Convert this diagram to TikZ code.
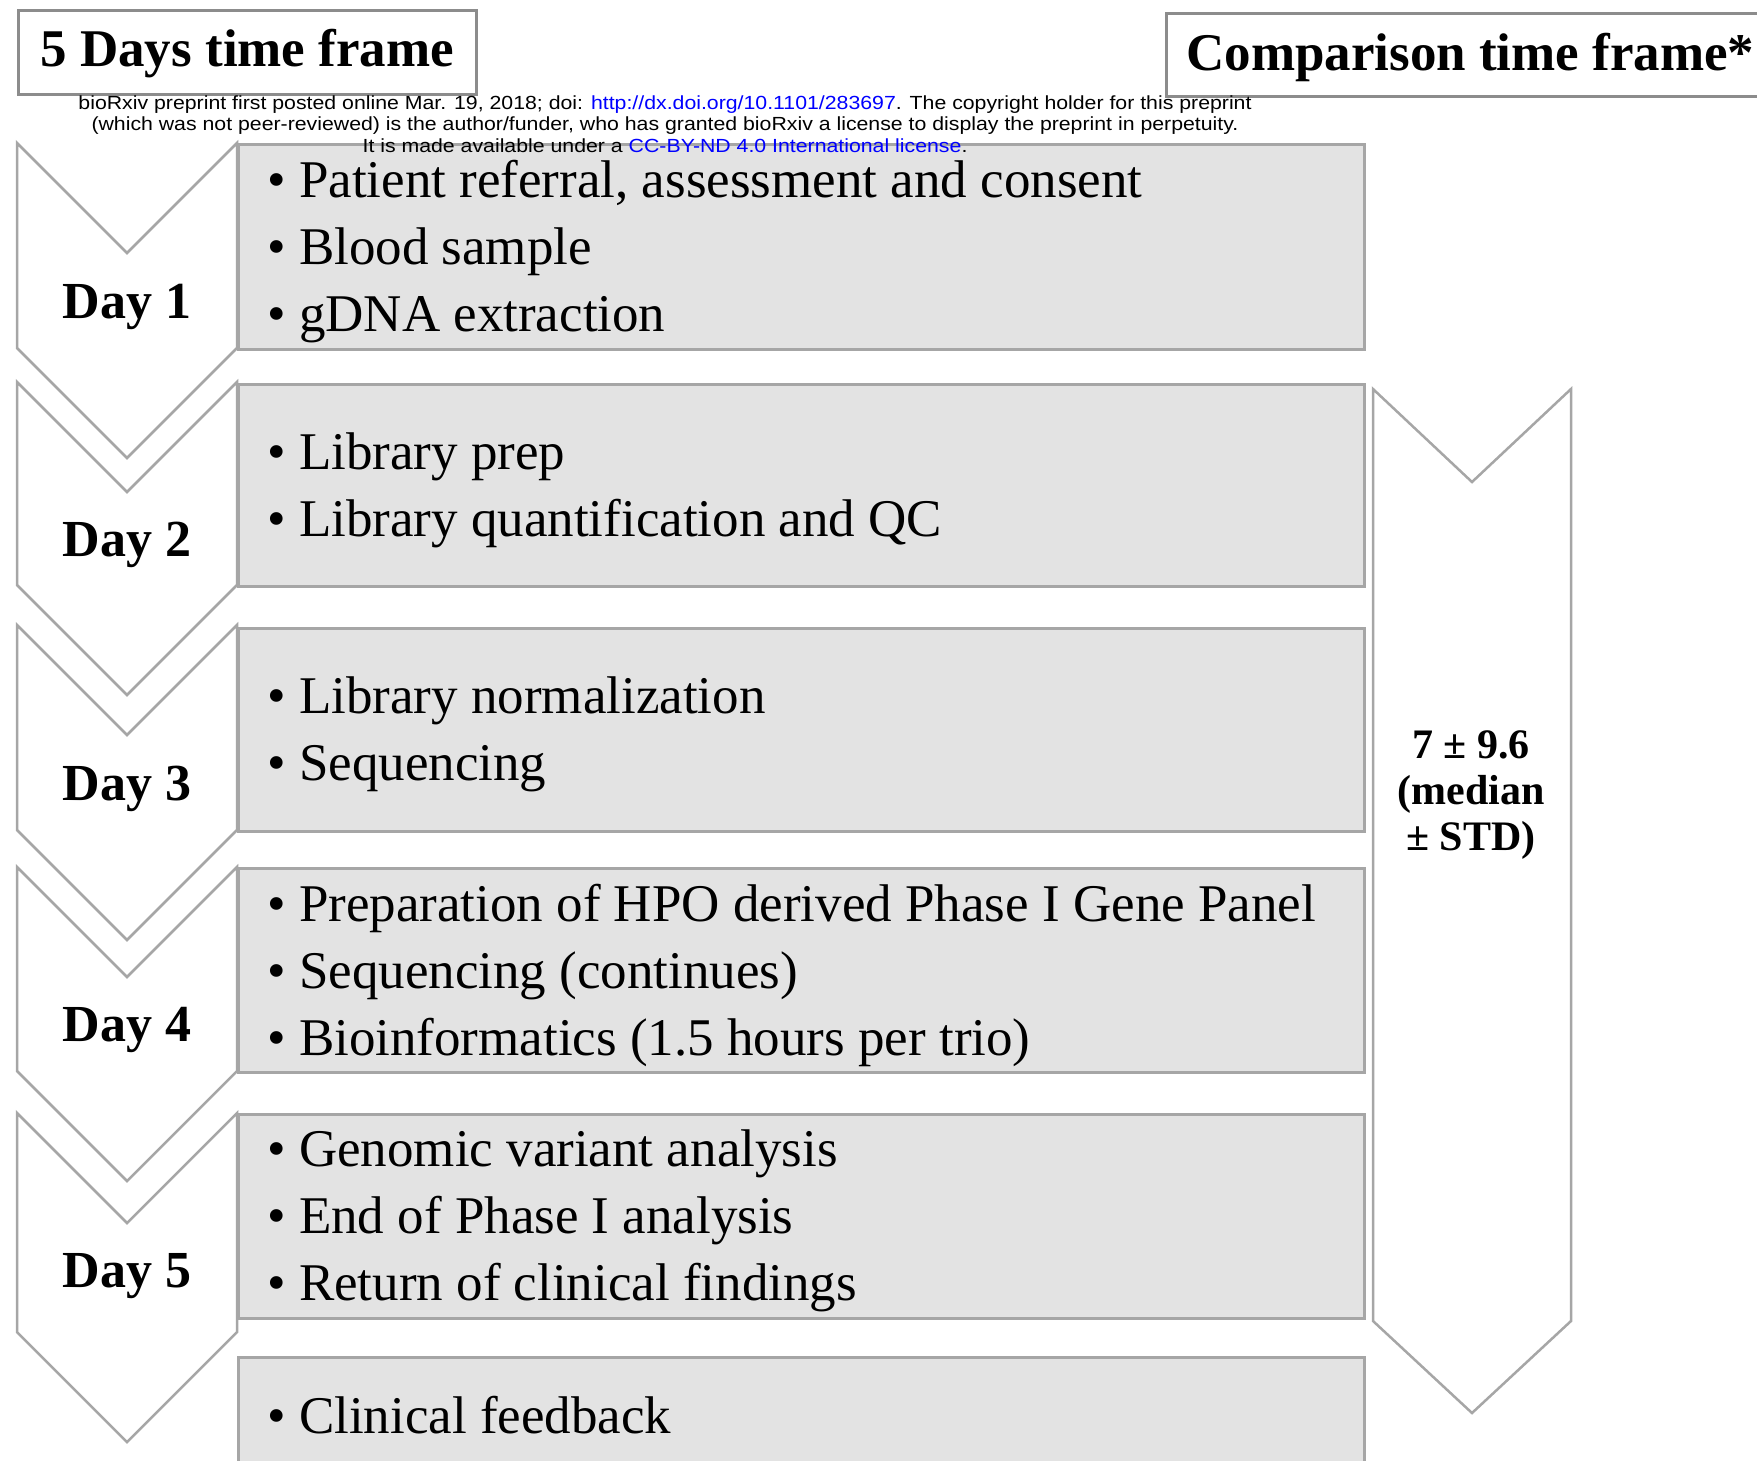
\documentclass[tikz,border=0pt]{standalone}
\usepackage{fontspec}
\setmainfont{Liberation Serif}
\newfontfamily\notefont[FakeStretch=1.12]{Liberation Sans}
\usetikzlibrary{positioning}
\definecolor{boxfill}{RGB}{227,227,227}
\definecolor{edgegray}{RGB}{166,166,166}
\definecolor{headgray}{RGB}{140,140,140}
\definecolor{linkblue}{RGB}{0,0,255}

\begin{document}
\begin{tikzpicture}[x=1pt,y=-1pt,
	chevron/.style={draw=edgegray, fill=white, line width=2.5pt, line join=miter},
	taskbox/.style={draw=edgegray, fill=boxfill, line width=2.5pt, anchor=north west, minimum width=1126},
	headbox/.style={draw=headgray, line width=2.5pt, anchor=north west, font=\fontsize{53}{60}\selectfont\bfseries},
	daylabel/.style={font=\fontsize{52}{60}\selectfont\bfseries},
	tasks/.style={anchor=west, align=left, inner sep=0pt, font=\fontsize{53}{67}\selectfont}]
	\path[use as bounding box] (0,0) rectangle (1757,1460);
	\clip (0,0) rectangle (1757,1460);

	\node[headbox, minimum width=458, minimum height=84, text depth=9pt] (days) at (17,9) {5 Days time frame};
	\node[headbox, minimum height=83, inner xsep=20pt, text depth=6pt] (comp) at (1165,12) {Comparison time frame*};

	\draw[chevron] (17,143) -- (127,253) -- (237,143) -- (237,348) -- (127,458) -- (17,348) -- cycle;
	\draw[chevron] (17,382) -- (127,492) -- (237,382) -- (237,585) -- (127,695) -- (17,585) -- cycle;
	\draw[chevron] (17,625) -- (127,735) -- (237,625) -- (237,830) -- (127,940) -- (17,830) -- cycle;
	\draw[chevron] (17,867) -- (127,977) -- (237,867) -- (237,1071) -- (127,1181) -- (17,1071) -- cycle;
	\draw[chevron] (17,1113) -- (127,1223) -- (237,1113) -- (237,1332) -- (127,1442) -- (17,1332) -- cycle;
	\draw[chevron] (1373,389) -- (1472,482) -- (1571,389) -- (1571,1321) -- (1472,1413) -- (1373,1321) -- cycle;

	\node[daylabel] (day1) at (127,307) {Day 1};
	\node[daylabel] (day2) at (127,545) {Day 2};
	\node[daylabel] (day3) at (127,789) {Day 3};
	\node[daylabel] (day4) at (127,1030) {Day 4};
	\node[daylabel] (day5) at (127,1276) {Day 5};

	\node[taskbox, minimum height=205] (box1) at (237,143) {};
	\node[taskbox, minimum height=202] (box2) at (237,383) {};
	\node[taskbox, minimum height=203] (box3) at (237,627) {};
	\node[taskbox, minimum height=204] (box4) at (237,867) {};
	\node[taskbox, minimum height=204] (box5) at (237,1113) {};
	\node[taskbox, minimum height=204] (box6) at (237,1356) {};

	\node[tasks, right=30pt of box1.west, yshift=-5pt] (list1) {\textbullet\ Patient referral, assessment and consent\\ \textbullet\ Blood sample\\ \textbullet\ gDNA extraction};
	\node[tasks, right=30pt of box2.west, yshift=-5pt] (list2) {\textbullet\ Library prep\\ \textbullet\ Library quantification and QC};
	\node[tasks, right=30pt of box3.west, yshift=-5pt] (list3) {\textbullet\ Library normalization\\ \textbullet\ Sequencing};
	\node[tasks, right=30pt of box4.west, yshift=-5pt] (list4) {\textbullet\ Preparation of HPO derived Phase I Gene Panel\\ \textbullet\ Sequencing (continues)\\ \textbullet\ Bioinformatics (1.5 hours per trio)};
	\node[tasks, right=30pt of box5.west, yshift=-5pt] (list5) {\textbullet\ Genomic variant analysis\\ \textbullet\ End of Phase I analysis\\ \textbullet\ Return of clinical findings};
	\node[tasks] (list6) at (267,1415) {\textbullet\ Clinical feedback};

	\node[align=center, font=\fontsize{42}{46}\selectfont\bfseries] (stat) at (1471,795) {7 ± 9.6\\(median\\± STD)};

	\node[align=center, inner sep=0pt, font=\notefont\fontsize{19}{21.5}\selectfont] (note) at (665,124) {bioRxiv preprint first posted online Mar. 19, 2018; doi: \textcolor{linkblue}{http://dx.doi.org/10.1101/283697}. The copyright holder for this preprint\\ (which was not peer-reviewed) is the author/funder, who has granted bioRxiv a license to display the preprint in perpetuity.\\ It is made available under a \textcolor{linkblue}{CC-BY-ND 4.0 International license}.};
\end{tikzpicture}
\end{document}
